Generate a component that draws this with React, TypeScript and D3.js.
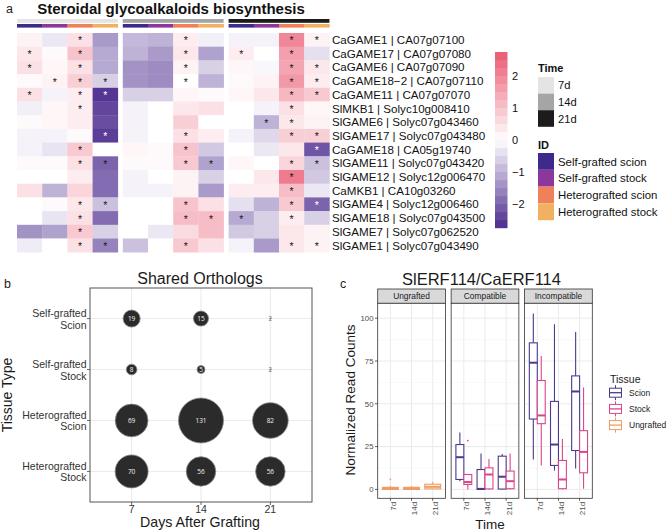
import React from "react";
import * as d3 from "d3";

const FONT = "'Liberation Sans', Arial, Helvetica, sans-serif";

// ---------- Panel a: heatmap ----------
const heatGenes = [
  "CaGAME1 | CA07g07100",
  "CaGAME17 | CA07g07080",
  "CaGAME6 | CA07g07090",
  "CaGAME18\u22122 | CA07g07110",
  "CaGAME11 | CA07g07070",
  "SlMKB1 | Solyc10g008410",
  "SlGAME6 | Solyc07g043460",
  "SlGAME17 | Solyc07g043480",
  "CaGAME18 | CA05g19740",
  "SlGAME11 | Solyc07g043420",
  "SlGAME12 | Solyc12g006470",
  "CaMKB1 | CA10g03260",
  "SlGAME4 | Solyc12g006460",
  "SlGAME18 | Solyc07g043500",
  "SlGAME7 | Solyc07g062520",
  "SlGAME1 | Solyc07g043490",
];
const heatTimes = ["7d", "14d", "21d"];
const heatIds = ["Self-grafted scion", "Self-grafted stock", "Heterografted scion", "Heterografted stock"];
const timeColors = ["#e4e4e4", "#a5a5a5", "#1d1b1c"];
const idColors = ["#3e2a8c", "#8c379c", "#ef8059", "#f2b160"];

// 12 columns per row: [7d x 4 ids, 14d x 4 ids, 21d x 4 ids]
const heatValues = [
  [0.2, -0.3, 0.5, -1.3, -0.9, -1.0, 0.3, -0.2, -0.15, -0.15, 2.0, 0.2],
  [0.4, 0.1, 1.0, -1.1, -1.0, -1.3, 0.4, -1.2, 0.3, 0, 1.6, -0.4],
  [0.5, 0.15, 0.5, -1.1, -1.4, -1.5, 0.2, -0.6, 0.15, -0.1, 1.5, 0.4],
  [0.1, 0.2, 0.8, -0.6, -1.4, -1.5, 0, -1.0, 0.1, 0.2, 1.7, 0.3],
  [0.5, -0.15, 0.3, -2.6, -0.6, -0.6, 0.15, 0.1, 0.15, 0.4, 1.2, 0.9],
  [-0.2, 0.15, 0.3, -2.4, -0.15, 0, 0.4, 0.5, 0, -0.15, 0.5, 0.15],
  [0.1, 0.15, 0.3, -2.3, -0.15, 0, 0.8, 0, 0, -1.0, 0.4, 0.2],
  [-0.15, -0.15, 0.1, -2.5, -0.15, 0, 0.5, 0.3, -0.15, -0.5, 0.8, 0.8],
  [-0.15, -0.35, 0.9, 0, 0.15, 0.1, 1.0, -0.7, 0, -0.3, 0.4, -2.2],
  [0.1, 0.1, 0.5, -2.0, 0.1, 0.1, 0.9, -1.2, 0.15, 0, 0.7, -0.8],
  [0, 0, 0.3, -1.9, -0.15, 0, 0.2, -0.6, 0, 0.4, 2.2, -0.7],
  [0.5, -1.0, 0.7, -1.9, -0.15, -0.15, 0.2, -1.3, 0.3, 0.3, 1.1, -0.3],
  [0, 0.1, 0.4, -0.8, 0, 0, 1.0, 0.5, -0.4, -1.0, 0.9, -2.0],
  [0, -0.35, 0.5, -1.9, 0, 0, 1.1, 1.1, -1.1, -0.6, 0.3, -0.6],
  [-1.4, -1.2, 0.9, -0.6, 0, -0.3, 0.6, 1.1, -0.7, -0.6, 0.4, 0.2],
  [-0.25, 0, 0.5, -1.6, -0.8, 0, 0.9, 0.5, -0.15, -1.3, 0.4, 0.2],
];
// 0 = none, 1 = black star, 2 = white star
const heatStars = [
  [0, 0, 1, 0, 0, 0, 1, 0, 0, 0, 1, 1],
  [1, 0, 1, 0, 0, 0, 1, 0, 1, 0, 1, 0],
  [1, 0, 1, 0, 0, 0, 1, 0, 0, 0, 1, 1],
  [0, 1, 1, 1, 0, 0, 1, 0, 0, 0, 1, 1],
  [1, 0, 1, 2, 0, 0, 0, 0, 0, 0, 1, 1],
  [0, 0, 1, 0, 0, 0, 0, 0, 0, 0, 1, 0],
  [0, 0, 0, 0, 0, 0, 0, 0, 0, 1, 1, 0],
  [0, 0, 0, 2, 0, 0, 1, 0, 0, 0, 1, 1],
  [0, 0, 1, 0, 0, 0, 1, 0, 0, 0, 0, 2],
  [0, 0, 1, 1, 0, 0, 1, 1, 0, 0, 1, 1],
  [0, 0, 0, 0, 0, 0, 0, 0, 0, 0, 1, 0],
  [0, 0, 0, 0, 0, 0, 0, 0, 0, 0, 1, 0],
  [0, 0, 1, 1, 0, 0, 1, 0, 0, 0, 1, 2],
  [0, 0, 1, 0, 0, 0, 1, 1, 1, 0, 1, 0],
  [0, 0, 1, 0, 0, 0, 0, 0, 0, 0, 0, 0],
  [0, 0, 1, 1, 0, 0, 1, 0, 0, 0, 1, 1],
];
const colorTicks = [2, 1, 0, -1, -2];

// ---------- Panel b: bubble chart ----------
const orthoDays = ["7", "14", "21"];
const orthoTissues = ["Self-grafted\nScion", "Self-grafted\nStock", "Heterografted\nScion", "Heterografted\nStock"];
const orthoCounts = [
  [19, 15, 2],
  [8, 5, 2],
  [69, 131, 82],
  [70, 56, 56],
];

// ---------- Panel c: box plots ----------
const erfFacets = ["Ungrafted", "Compatible", "Incompatible"];
const erfTimes = ["7d", "14d", "21d"];
const erfTissues = ["Scion", "Stock", "Ungrafted"];
const erfColors = ["#4b3a8e", "#d9468a", "#f29a5f"];
const erfYTicks = [0, 25, 50, 75, 100];
// [facet, time, tissue, lowerWhisker, q1, median, q3, upperWhisker, outliers]
const erfBoxes: [number, number, number, number, number, number, number, number, number[]][] = [
  [0, 0, 2, 0, 0, 0.5, 1.2, 2.2, [5.8]],
  [0, 1, 2, 0, 0, 0.5, 1.2, 2.0, []],
  [0, 2, 2, 0, 0.3, 1.5, 3.0, 4.5, []],
  [1, 0, 0, 4.8, 5.8, 18.8, 26.2, 33.3, []],
  [1, 0, 1, 0, 2.9, 4.3, 8.7, 9.0, [28.5]],
  [1, 1, 0, 0, 0, 0.3, 11.6, 21, []],
  [1, 1, 1, 0, 0.3, 8.7, 12.6, 17.8, []],
  [1, 2, 0, 0, 0.2, 7.4, 19.4, 20.7, []],
  [1, 2, 1, 0, 0.4, 4.8, 10.7, 20.9, []],
  [2, 0, 0, 17.4, 41.1, 74, 85.6, 102.7, []],
  [2, 0, 1, 14, 38.4, 43.2, 63.6, 77.9, []],
  [2, 1, 0, 11, 14, 26.2, 51.4, 96.5, []],
  [2, 1, 1, 0, 0.4, 5.8, 16.9, 29.5, []],
  [2, 2, 0, 12.2, 22.7, 57.2, 66.3, 92, []],
  [2, 2, 1, 0.4, 9.7, 21.9, 34.3, 59.5, []],
];

function HeatmapPanel() {
  const blockX = d3.scaleBand<string>().domain(heatTimes).range([17, 329.4]).paddingInner(0.0473);
  const colX = d3.scaleBand<string>().domain(heatIds).range([0, blockX.bandwidth()]);
  const rowY = d3.scaleBand<string>().domain(heatGenes).range([33, 33 + heatGenes.length * 13.7]);
  const color = d3
    .scaleLinear<string>()
    .domain([-2.75, 0, 2.75])
    .range(["#4b2a8e", "#ffffff", "#ea5a72"])
    .clamp(true);
  const cbY = d3.scaleLinear().domain([-2.75, 2.75]).range([228, 52]);
  const cbSteps = d3.range(-2.75, 2.74, 0.25);

  return (
    <g>
      <text x={6} y={13} fontSize={12.5} fill="#222">a</text>
      <text x={171} y={14} fontSize={15} fontWeight="bold" textAnchor="middle" fill="#111">
        Steroidal glycoalkaloids biosynthesis
      </text>
      {heatTimes.map((t, b) => (
        <rect key={"tb" + t} x={blockX(t)} y={19} width={blockX.bandwidth()} height={3.8} fill={timeColors[b]} />
      ))}
      {heatTimes.map((t) =>
        heatIds.map((id, k) => (
          <rect
            key={"ib" + t + id}
            x={(blockX(t) as number) + (colX(id) as number)}
            y={24}
            width={colX.bandwidth() + 0.3}
            height={3.6}
            fill={idColors[k]}
          />
        ))
      )}
      {heatGenes.map((g, i) =>
        heatValues[i].map((v, j) => {
          const t = heatTimes[Math.floor(j / 4)];
          const id = heatIds[j % 4];
          const x = (blockX(t) as number) + (colX(id) as number);
          const y = rowY(g) as number;
          const s = heatStars[i][j];
          return (
            <g key={"c" + i + "-" + j}>
              <rect x={x} y={y} width={colX.bandwidth() + 0.3} height={rowY.bandwidth() + 0.3} fill={color(v)} />
              {s > 0 && (
                <text
                  x={x + colX.bandwidth() / 2}
                  y={y + rowY.bandwidth() / 2 + 4.6}
                  fontSize={10.5}
                  textAnchor="middle"
                  fill={s === 2 ? "#ffffff" : "#1a1a1a"}
                >
                  *
                </text>
              )}
            </g>
          );
        })
      )}
      {heatGenes.map((g) => (
        <text
          key={"l" + g}
          x={332}
          y={(rowY(g) as number) + rowY.bandwidth() / 2}
          dy="0.36em"
          fontSize={11.6}
          fill="#111"
        >
          {g}
        </text>
      ))}
      {cbSteps.map((v) => (
        <rect
          key={"cb" + v}
          x={495}
          y={cbY(v + 0.25)}
          width={12.5}
          height={cbY(v) - cbY(v + 0.25) + 0.2}
          fill={color(v + 0.125)}
        />
      ))}
      {colorTicks.map((t) => (
        <text key={"ct" + t} x={512} y={cbY(t)} dy="0.36em" fontSize={11} fill="#111">
          {t < 0 ? "\u2212" + Math.abs(t) : String(t)}
        </text>
      ))}
      <text x={538} y={72} fontSize={11} fontWeight="bold" fill="#111">Time</text>
      {heatTimes.map((t, b) => (
        <g key={"lt" + t}>
          <rect x={538} y={77 + b * 16.6} width={16} height={16.6} fill={timeColors[b]} />
          <text x={558} y={77 + b * 16.6 + 8.3} dy="0.36em" fontSize={11.2} fill="#111">{t}</text>
        </g>
      ))}
      <text x={538} y={149} fontSize={11} fontWeight="bold" fill="#111">ID</text>
      {heatIds.map((id, k) => (
        <g key={"li" + id}>
          <rect x={538} y={153 + k * 16.8} width={16} height={16.8} fill={idColors[k]} />
          <text x={558} y={153 + k * 16.8 + 8.4} dy="0.36em" fontSize={11.4} fill="#111">{id}</text>
        </g>
      ))}
    </g>
  );
}

function BubblePanel() {
  const left = 90, right = 312, top = 288, bottom = 502;
  const x = d3.scalePoint<string>().domain(orthoDays).range([left, right]).padding(0.6);
  const y = d3.scalePoint<string>().domain(orthoTissues).range([top, bottom]).padding(0.6);
  const all = orthoCounts.flat();
  const norm = d3.scaleLinear().domain(d3.extent(all) as [number, number]).range([0, 1]);
  const r = d3.scaleSqrt().domain([0, 1]).range([0.6, 22.5]);
  return (
    <g>
      <text x={4} y={288} fontSize={12.5} fill="#222">b</text>
      <text x={200} y={284} fontSize={16} textAnchor="middle" fill="#1a1a1a">Shared Orthologs</text>
      <rect x={left} y={top} width={right - left} height={bottom - top} fill="#fff" />
      {orthoDays.map((d) => (
        <line key={"gx" + d} x1={x(d)} x2={x(d)} y1={top} y2={bottom} stroke="#ebebeb" strokeWidth={1.1} />
      ))}
      {orthoTissues.map((t) => (
        <line key={"gy" + t} x1={left} x2={right} y1={y(t)} y2={y(t)} stroke="#ebebeb" strokeWidth={1.1} />
      ))}
      {orthoTissues.map((t, i) =>
        orthoDays.map((d, j) => {
          const v = orthoCounts[i][j];
          const rr = r(norm(v));
          return (
            <g key={"bb" + i + j}>
              <circle cx={x(d)} cy={y(t)} r={rr} fill="#2b2b2b" stroke="#8a8a8a" strokeWidth={0.8} />
              <text
                x={x(d)}
                y={y(t)}
                dy="0.35em"
                fontSize={6.5}
                textAnchor="middle"
                fill={rr < 2 ? "#777" : "#f2f2f2"}
                fontFamily="'Open Sans', 'Noto Sans', sans-serif"
              >
                {v}
              </text>
            </g>
          );
        })
      )}
      <rect x={left} y={top} width={right - left} height={bottom - top} fill="none" stroke="#555" strokeWidth={1} />
      {orthoTissues.map((t) => {
        const [a, b] = t.split("\n");
        const yy = y(t) as number;
        return (
          <g key={"yl" + t}>
            <line x1={left - 3} x2={left} y1={yy} y2={yy} stroke="#444" strokeWidth={0.8} />
            <text x={left - 3.5} y={yy - 5.6} dy="0.36em" fontSize={10.5} textAnchor="end" fill="#333">{a}</text>
            <text x={left - 3.5} y={yy + 6.2} dy="0.36em" fontSize={10.5} textAnchor="end" fill="#333">{b}</text>
          </g>
        );
      })}
      {orthoDays.map((d) => (
        <g key={"xl" + d}>
          <line x1={x(d)} x2={x(d)} y1={bottom} y2={bottom + 3} stroke="#444" strokeWidth={0.8} />
          <text x={x(d)} y={509.3} dy="0.36em" fontSize={10.5} textAnchor="middle" fill="#333">{d}</text>
        </g>
      ))}
      <text x={200} y={527} fontSize={14.2} textAnchor="middle" fill="#1a1a1a">Days After Grafting</text>
      <text
        transform={`translate(12,395) rotate(-90)`}
        fontSize={14}
        textAnchor="middle"
        fill="#1a1a1a"
      >
        Tissue Type
      </text>
    </g>
  );
}

function BoxPanel() {
  const top = 303.3, bottom = 498.3;
  const facetX = d3.scaleBand<string>().domain(erfFacets).range([377.7, 592.3]).paddingInner(0.078);
  const timeX = d3.scalePoint<string>().domain(erfTimes).range([0, facetX.bandwidth()]).padding(0.6);
  const step = facetX.bandwidth() / 3.2;
  const y = d3.scaleLinear().domain([-5.2, 108.7]).range([bottom, top]);
  const minor = [12.5, 37.5, 62.5, 87.5];
  return (
    <g>
      <text x={340} y={288} fontSize={12.5} fill="#222">c</text>
      <text x={481.5} y={285} fontSize={16.5} textAnchor="middle" fill="#1a1a1a">SlERF114/CaERF114</text>
      {erfFacets.map((f, fi) => {
        const fx = facetX(f) as number;
        const w = facetX.bandwidth();
        const boxes = erfBoxes.filter((b) => b[0] === fi);
        return (
          <g key={"f" + f}>
            <rect x={fx} y={289} width={w} height={top - 289} fill="#d9d9d9" stroke="#333" strokeWidth={0.8} />
            <text x={fx + w / 2} y={296.3} dy="0.36em" fontSize={8.4} textAnchor="middle" fill="#1a1a1a">{f}</text>
            <rect x={fx} y={top} width={w} height={bottom - top} fill="#fff" />
            {minor.map((m) => (
              <line key={"mn" + m} x1={fx} x2={fx + w} y1={y(m)} y2={y(m)} stroke="#f2f2f2" strokeWidth={0.5} />
            ))}
            {erfYTicks.map((t) => (
              <line key={"mj" + t} x1={fx} x2={fx + w} y1={y(t)} y2={y(t)} stroke="#ebebeb" strokeWidth={1} />
            ))}
            {erfTimes.map((t) => (
              <line
                key={"vx" + t}
                x1={fx + (timeX(t) as number)}
                x2={fx + (timeX(t) as number)}
                y1={top}
                y2={bottom}
                stroke="#ebebeb"
                strokeWidth={1}
              />
            ))}
            {boxes.map((b, bi) => {
              const [, ti, tissue, lo, q1, med, q3, hi, outs] = b;
              const cx0 = fx + (timeX(erfTimes[ti]) as number);
              const single = fi === 0;
              const bw = single ? step * 0.75 : step * 0.375;
              const bx = single ? cx0 - bw / 2 : tissue === 0 ? cx0 - bw : cx0;
              const cx = bx + bw / 2;
              const col = erfColors[tissue];
              return (
                <g key={"bx" + bi}>
                  <line x1={cx} x2={cx} y1={y(hi)} y2={y(q3)} stroke={col} strokeWidth={1.1} />
                  <line x1={cx} x2={cx} y1={y(q1)} y2={y(lo)} stroke={col} strokeWidth={1.1} />
                  <rect
                    x={bx}
                    y={y(q3)}
                    width={bw}
                    height={Math.max(0.5, y(q1) - y(q3))}
                    fill="#fff"
                    stroke={col}
                    strokeWidth={1.1}
                  />
                  <line x1={bx} x2={bx + bw} y1={y(med)} y2={y(med)} stroke={col} strokeWidth={2} />
                  {outs.map((o, oi) => (
                    <circle key={"o" + oi} cx={cx} cy={y(o)} r={0.9} fill={col} />
                  ))}
                </g>
              );
            })}
            <rect x={fx} y={top} width={w} height={bottom - top} fill="none" stroke="#333" strokeWidth={0.8} />
            {erfTimes.map((t) => {
              const tx = fx + (timeX(t) as number);
              return (
                <g key={"xt" + t}>
                  <line x1={tx} x2={tx} y1={bottom} y2={bottom + 2.5} stroke="#333" strokeWidth={0.8} />
                  <text
                    transform={`translate(${tx + 2.5},${bottom + 3.5}) rotate(-90)`}
                    fontSize={8}
                    textAnchor="end"
                    dy="0.36em"
                    fill="#4d4d4d"
                  >
                    {t}
                  </text>
                </g>
              );
            })}
          </g>
        );
      })}
      {erfYTicks.map((t) => (
        <g key={"yt" + t}>
          <line x1={375} x2={377.7} y1={y(t)} y2={y(t)} stroke="#333" strokeWidth={0.8} />
          <text x={373.5} y={y(t)} dy="0.36em" fontSize={7.8} textAnchor="end" fill="#4d4d4d">{t}</text>
        </g>
      ))}
      <text transform={`translate(355,400) rotate(-90)`} fontSize={13.5} textAnchor="middle" fill="#1a1a1a">
        Normalized Read Counts
      </text>
      <text x={490} y={529} fontSize={13.5} textAnchor="middle" fill="#1a1a1a">Time</text>
      <text x={610} y={383} fontSize={10.5} fill="#1a1a1a">Tissue</text>
      {erfTissues.map((t, k) => {
        const cy = 392.7 + k * 16.2;
        const col = erfColors[k];
        return (
          <g key={"lg" + t}>
            <line x1={615.5} x2={615.5} y1={cy - 7.5} y2={cy + 7.5} stroke={col} strokeWidth={1} />
            <rect x={609.5} y={cy - 4.5} width={12} height={9} fill="#fff" stroke={col} strokeWidth={1} />
            <line x1={609.5} x2={621.5} y1={cy} y2={cy} stroke={col} strokeWidth={1.3} />
            <text x={629} y={cy} dy="0.36em" fontSize={8.5} fill="#1a1a1a">{t}</text>
          </g>
        );
      })}
    </g>
  );
}

export default function App() {
  return (
    <svg
      width={666}
      height={531}
      viewBox="0 0 666 531"
      style={{ position: "absolute", left: 0, top: 0, background: "#fff" }}
      fontFamily={FONT}
    >
      <rect width={666} height={531} fill="#fff" />
      <HeatmapPanel />
      <BubblePanel />
      <BoxPanel />
    </svg>
  );
}
